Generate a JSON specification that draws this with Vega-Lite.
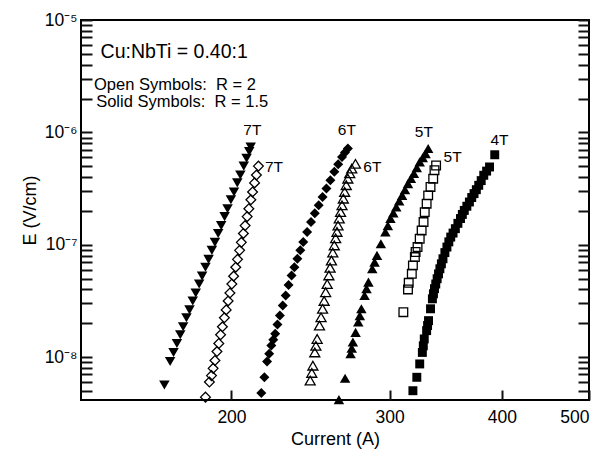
{
"$schema": "https://vega.github.io/schema/vega-lite/v6.json",
"width": 508, "height": 380,
"autosize": {"type": "none"},
"padding": {"left": 81, "top": 20, "right": 13, "bottom": 53},
"background": "white",
"config": {
  "view": {"stroke": "black", "strokeWidth": 2},
  "font": "Liberation Sans",
  "axis": {"domain": false, "grid": false, "labelColor": "black", "titleColor": "black", "labelFont": "Liberation Sans", "titleFont": "Liberation Sans", "titleFontWeight": "normal"}
},
"datasets": {
  "d_s7": [
    {"I":168.4,"E":5.65e-9},{"I":170.9,"E":9.12e-9},{"I":172.4,"E":1.10e-8},{"I":173.9,"E":1.32e-8},{"I":175.4,"E":1.58e-8},{"I":176.7,"E":1.86e-8},{"I":178.2,"E":2.24e-8},{"I":179.6,"E":2.63e-8},{"I":181.1,"E":3.16e-8},{"I":182.5,"E":3.72e-8},{"I":184.1,"E":4.47e-8},{"I":185.5,"E":5.25e-8},{"I":187.1,"E":6.31e-8},{"I":188.6,"E":7.41e-8},{"I":190.2,"E":8.91e-8},{"I":191.7,"E":1.05e-7},{"I":193.3,"E":1.26e-7},{"I":194.8,"E":1.48e-7},{"I":196.5,"E":1.78e-7},{"I":198.0,"E":2.09e-7},{"I":199.7,"E":2.51e-7},{"I":201.3,"E":2.95e-7},{"I":203.0,"E":3.55e-7},{"I":204.6,"E":4.17e-7},{"I":206.4,"E":5.01e-7},{"I":207.9,"E":5.89e-7},{"I":209.3,"E":6.76e-7},{"I":210.1,"E":7.41e-7}
  ],
  "d_s6": [
    {"I":215.9,"E":4.80e-9},{"I":217.6,"E":6.61e-9},{"I":219.1,"E":9.12e-9},{"I":220.3,"E":1.07e-8},{"I":221.5,"E":1.27e-8},{"I":222.6,"E":1.43e-8},{"I":223.7,"E":1.61e-8},{"I":225.0,"E":1.95e-8},{"I":226.4,"E":2.34e-8},{"I":228.1,"E":2.88e-8},{"I":229.8,"E":3.53e-8},{"I":231.5,"E":4.37e-8},{"I":233.3,"E":5.33e-8},{"I":235.0,"E":6.31e-8},{"I":236.8,"E":7.50e-8},{"I":238.6,"E":8.91e-8},{"I":240.4,"E":1.06e-7},{"I":242.8,"E":1.30e-7},{"I":245.2,"E":1.59e-7},{"I":247.6,"E":1.91e-7},{"I":250.1,"E":2.24e-7},{"I":252.6,"E":2.66e-7},{"I":255.1,"E":3.16e-7},{"I":257.7,"E":3.75e-7},{"I":260.3,"E":4.45e-7},{"I":262.9,"E":5.19e-7},{"I":265.5,"E":6.05e-7},{"I":267.5,"E":6.61e-7},{"I":269.5,"E":7.18e-7}
  ],
  "d_s5": [
    {"I":263.4,"E":4.18e-9},{"I":267.6,"E":6.47e-9},{"I":271.4,"E":1.07e-8},{"I":272.2,"E":1.20e-8},{"I":273.0,"E":1.36e-8},{"I":274.9,"E":1.66e-8},{"I":276.8,"E":2.05e-8},{"I":277.9,"E":2.34e-8},{"I":279.0,"E":2.69e-8},{"I":281.3,"E":3.53e-8},{"I":282.7,"E":4.07e-8},{"I":284.1,"E":4.65e-8},{"I":286.9,"E":6.11e-8},{"I":288.6,"E":7.00e-8},{"I":290.4,"E":8.04e-8},{"I":293.3,"E":1.02e-7},{"I":296.7,"E":1.30e-7},{"I":298.6,"E":1.48e-7},{"I":300.6,"E":1.71e-7},{"I":302.8,"E":1.92e-7},{"I":305.1,"E":2.17e-7},{"I":307.4,"E":2.45e-7},{"I":309.7,"E":2.75e-7},{"I":312.0,"E":3.09e-7},{"I":314.4,"E":3.50e-7},{"I":316.8,"E":3.89e-7},{"I":319.2,"E":4.30e-7},{"I":321.6,"E":4.84e-7},{"I":324.0,"E":5.46e-7},{"I":326.5,"E":5.96e-7},{"I":328.9,"E":6.47e-7},{"I":331.1,"E":7.18e-7}
  ],
  "d_s4": [
    {"I":318.4,"E":5.02e-9},{"I":321.6,"E":6.61e-9},{"I":324.0,"E":8.69e-9},{"I":326.2,"E":1.10e-8},{"I":327.0,"E":1.26e-8},{"I":327.8,"E":1.45e-8},{"I":329.8,"E":1.72e-8},{"I":330.6,"E":1.91e-8},{"I":331.4,"E":2.11e-8},{"I":333.1,"E":2.69e-8},{"I":334.7,"E":3.30e-8},{"I":335.6,"E":3.66e-8},{"I":336.5,"E":4.06e-8},{"I":337.6,"E":4.47e-8},{"I":338.8,"E":4.98e-8},{"I":340.0,"E":5.50e-8},{"I":341.2,"E":6.11e-8},{"I":342.5,"E":6.76e-8},{"I":343.9,"E":7.50e-8},{"I":345.6,"E":8.51e-8},{"I":347.4,"E":9.53e-8},{"I":349.1,"E":1.06e-7},{"I":350.8,"E":1.17e-7},{"I":352.9,"E":1.27e-7},{"I":355.0,"E":1.39e-7},{"I":357.3,"E":1.55e-7},{"I":359.7,"E":1.71e-7},{"I":361.4,"E":1.86e-7},{"I":363.2,"E":2.02e-7},{"I":365.6,"E":2.20e-7},{"I":368.0,"E":2.40e-7},{"I":370.2,"E":2.63e-7},{"I":372.4,"E":2.85e-7},{"I":374.6,"E":3.09e-7},{"I":376.9,"E":3.38e-7},{"I":379.3,"E":3.72e-7},{"I":381.8,"E":4.15e-7},{"I":384.6,"E":4.52e-7},{"I":387.5,"E":4.92e-7},{"I":392.7,"E":6.32e-7}
  ],
  "d_o7": [
    {"I":187.1,"E":4.4e-9},{"I":189.0,"E":6.0e-9},{"I":190.0,"E":6.84e-9},{"I":190.8,"E":7.94e-9},{"I":191.7,"E":9.33e-9},{"I":192.7,"E":1.12e-8},{"I":193.6,"E":1.32e-8},{"I":194.5,"E":1.58e-8},{"I":195.4,"E":1.86e-8},{"I":196.4,"E":2.24e-8},{"I":197.3,"E":2.63e-8},{"I":198.3,"E":3.16e-8},{"I":199.2,"E":3.72e-8},{"I":200.2,"E":4.47e-8},{"I":201.1,"E":5.25e-8},{"I":202.2,"E":6.31e-8},{"I":203.1,"E":7.41e-8},{"I":204.2,"E":8.91e-8},{"I":205.1,"E":1.05e-7},{"I":206.2,"E":1.26e-7},{"I":207.1,"E":1.48e-7},{"I":208.2,"E":1.78e-7},{"I":209.1,"E":2.09e-7},{"I":210.2,"E":2.51e-7},{"I":211.1,"E":2.95e-7},{"I":212.2,"E":3.55e-7},{"I":213.2,"E":4.17e-7},{"I":214.3,"E":5.01e-7}
  ],
  "d_o6": [
    {"I":244.7,"E":6.18e-9},{"I":245.7,"E":7.23e-9},{"I":246.4,"E":8.39e-9},{"I":247.6,"E":1.10e-8},{"I":248.3,"E":1.26e-8},{"I":249.1,"E":1.45e-8},{"I":250.6,"E":1.91e-8},{"I":251.6,"E":2.26e-8},{"I":252.6,"E":2.69e-8},{"I":253.6,"E":3.16e-8},{"I":254.6,"E":3.78e-8},{"I":255.6,"E":4.47e-8},{"I":256.7,"E":5.33e-8},{"I":257.5,"E":6.24e-8},{"I":258.4,"E":7.24e-8},{"I":259.3,"E":8.51e-8},{"I":260.3,"E":9.86e-8},{"I":261.2,"E":1.14e-7},{"I":262.1,"E":1.30e-7},{"I":262.8,"E":1.48e-7},{"I":263.6,"E":1.71e-7},{"I":264.5,"E":1.95e-7},{"I":265.5,"E":2.24e-7},{"I":266.4,"E":2.57e-7},{"I":267.3,"E":2.95e-7},{"I":268.4,"E":3.39e-7},{"I":269.5,"E":3.87e-7},{"I":270.8,"E":4.32e-7},{"I":272.2,"E":4.76e-7},{"I":274.8,"E":5.25e-7}
  ],
  "d_o5": [
    {"I":310.7,"E":2.51e-8},{"I":314.4,"E":4.00e-8},{"I":315.0,"E":4.58e-8},{"I":317.5,"E":5.51e-8},{"I":318.4,"E":6.55e-8},{"I":320.0,"E":7.76e-8},{"I":320.6,"E":8.61e-8},{"I":322.2,"E":9.53e-8},{"I":324.0,"E":1.13e-7},{"I":325.6,"E":1.34e-7},{"I":327.2,"E":1.59e-7},{"I":328.2,"E":1.95e-7},{"I":329.8,"E":2.32e-7},{"I":331.1,"E":2.75e-7},{"I":333.1,"E":3.27e-7},{"I":335.4,"E":3.87e-7},{"I":336.5,"E":4.60e-7},{"I":337.9,"E":5.07e-7}
  ],
  "d_lab": [
    {"t":"7T","I":211.0,"E":1.05e-6},{"t":"7T","I":223.0,"E":4.9e-7},{"t":"6T","I":268.8,"E":1.05e-6},{"t":"6T","I":287.0,"E":4.9e-7},{"t":"5T","I":327.5,"E":1.0e-6},{"t":"5T","I":352.5,"E":6.0e-7},{"t":"4T","I":397.5,"E":8.5e-7}
  ],
  "d_note": [
    {"t":"Cu:NbTi = 0.40:1","I":143.0,"E":5.2e-6,"f":19.5},
    {"t":"Open Symbols:\u00a0\u00a0R = 2","I":140.6,"E":2.65e-6,"f":16.5},
    {"t":"Solid Symbols:\u00a0\u00a0R = 1.5","I":141.4,"E":1.85e-6,"f":16.5}
  ]
},
"encoding": {
  "x": {"field": "I", "type": "quantitative", "scale": {"type": "log", "domain": [136, 500], "nice": false},
        "axis": {"title": "Current (A)", "values": [200, 300, 400, 500], "format": "d", "tickSize": -10, "tickColor": "#111111", "tickWidth": 2, "labelPadding": 18, "labelFontSize": 17.5, "titleFontSize": 18, "titlePadding": 5}},
  "y": {"field": "E", "type": "quantitative", "scale": {"type": "log", "domain": [4.15e-9, 1e-5], "nice": false}, "axis": null}
},
"resolve": {"axis": {"y": "independent"}},
"layer": [
  {
    "data": {"name": "d_s7"},
    "mark": {"type": "point", "shape": "triangle-down", "filled": true, "color": "black", "opacity": 1, "size": 110},
    "encoding": {
      "y": {"field": "E", "type": "quantitative",
            "axis": {"orient": "left", "title": "E (V/cm)", "tickSize": -11, "tickColor": "#111111", "tickWidth": 2, "labelPadding": 15, "labelFontSize": 17.5, "titleFontSize": 18, "titlePadding": 5,
                     "values": [5e-9,6e-9,7e-9,8e-9,9e-9,1e-8,2e-8,3e-8,4e-8,5e-8,6e-8,7e-8,8e-8,9e-8,1e-7,2e-7,3e-7,4e-7,5e-7,6e-7,7e-7,8e-7,9e-7,1e-6,2e-6,3e-6,4e-6,5e-6,6e-6,7e-6,8e-6,9e-6,1e-5],
                     "labelExpr": "datum.value == 1e-8 ? '10⁻⁸' : datum.value == 1e-7 ? '10⁻⁷' : datum.value == 1e-6 ? '10⁻⁶' : datum.value == 1e-5 ? '10⁻⁵' : ''"}}
    }
  },
  {
    "data": {"name": "d_s6"},
    "mark": {"type": "point", "shape": "diamond", "filled": true, "color": "black", "opacity": 1, "size": 100},
    "encoding": {
      "y": {"field": "E", "type": "quantitative",
            "axis": {"orient": "right", "title": null, "labels": false, "tickSize": -11, "tickColor": "#111111", "tickWidth": 2,
                     "values": [5e-9,6e-9,7e-9,8e-9,9e-9,1e-8,2e-8,3e-8,4e-8,5e-8,6e-8,7e-8,8e-8,9e-8,1e-7,2e-7,3e-7,4e-7,5e-7,6e-7,7e-7,8e-7,9e-7,1e-6,2e-6,3e-6,4e-6,5e-6,6e-6,7e-6,8e-6,9e-6,1e-5]}}
    }
  },
  {
    "data": {"name": "d_s5"},
    "mark": {"type": "point", "shape": "triangle-up", "filled": true, "color": "black", "opacity": 1, "size": 110}
  },
  {
    "data": {"name": "d_s4"},
    "mark": {"type": "point", "shape": "square", "filled": true, "color": "black", "opacity": 1, "size": 80}
  },
  {
    "data": {"name": "d_o7"},
    "mark": {"type": "point", "shape": "diamond", "filled": false, "color": "black", "opacity": 1, "size": 95, "strokeWidth": 1.3}
  },
  {
    "data": {"name": "d_o6"},
    "mark": {"type": "point", "shape": "triangle-up", "filled": false, "color": "black", "opacity": 1, "size": 100, "strokeWidth": 1.3}
  },
  {
    "data": {"name": "d_o5"},
    "mark": {"type": "point", "shape": "square", "filled": false, "color": "black", "opacity": 1, "size": 75, "strokeWidth": 1.3}
  },
  {
    "data": {"name": "d_lab"},
    "mark": {"type": "text", "fontSize": 15.5, "color": "black", "align": "center", "baseline": "middle"},
    "encoding": {"text": {"field": "t"}}
  },
  {
    "data": {"name": "d_note"},
    "mark": {"type": "text", "color": "black", "align": "left", "baseline": "middle"},
    "encoding": {
      "text": {"field": "t"},
      "size": {"field": "f", "type": "quantitative", "scale": null}
    }
  }
]
}
